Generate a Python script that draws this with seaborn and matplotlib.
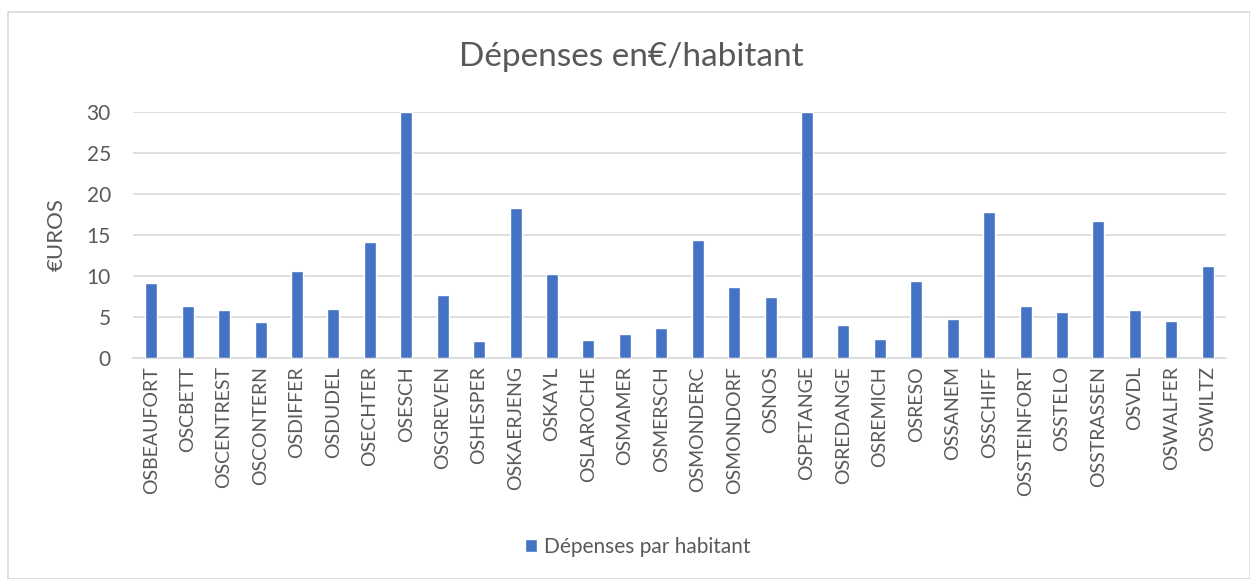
import matplotlib
matplotlib.use("Agg")
import matplotlib.pyplot as plt
from matplotlib.patches import Rectangle, Patch
import seaborn as sns
import pandas as pd

communes = ['OSBEAUFORT', 'OSCBETT', 'OSCENTREST', 'OSCONTERN', 'OSDIFFER',
            'OSDUDEL', 'OSECHTER', 'OSESCH', 'OSGREVEN', 'OSHESPER',
            'OSKAERJENG', 'OSKAYL', 'OSLAROCHE', 'OSMAMER', 'OSMERSCH',
            'OSMONDERC', 'OSMONDORF', 'OSNOS', 'OSPETANGE', 'OSREDANGE',
            'OSREMICH', 'OSRESO', 'OSSANEM', 'OSSCHIFF', 'OSSTEINFORT',
            'OSSTELO', 'OSSTRASSEN', 'OSVDL', 'OSWALFER', 'OSWILTZ']
depenses = [9.1, 6.4, 5.8, 4.35, 10.65,
            5.95, 14.1, 30, 7.65, 2.1,
            18.3, 10.2, 2.25, 2.95, 3.7,
            14.45, 8.6, 7.5, 30, 4.05,
            2.3, 9.35, 4.8, 17.8, 6.4,
            5.6, 16.65, 5.8, 4.5, 11.2]
y_ticks = [0, 5, 10, 15, 20, 25, 30]

BLUE = '#4472C4'
GREY = '#595959'
GRID = '#D9D9D9'


def main():
    df = pd.DataFrame({'Commune': communes, 'Depenses': depenses})

    sns.set_style('white')
    plt.rcParams['font.family'] = ['Lato', 'DejaVu Sans']

    fig = plt.figure(figsize=(12.5, 5.79), dpi=100)
    ax = fig.add_axes([133 / 1250, 1 - 358 / 579, (1226 - 133) / 1250, (358 - 112) / 579])

    # cadre du graphique
    fig.patches.append(Rectangle((8 / 1250, 0), 1 - 8 / 1250, 1 - 12 / 579,
                                 transform=fig.transFigure, fill=False,
                                 edgecolor=GRID, linewidth=1.2))

    sns.barplot(data=df, x='Commune', y='Depenses', color=BLUE, saturation=1,
                width=0.33, ax=ax, zorder=3)

    ax.set_ylim(0, 30)
    ax.set_xlim(-0.5, len(communes) - 0.5)
    ax.set_yticks(y_ticks)
    ax.set_yticklabels([str(t) for t in y_ticks], fontsize=15, color=GREY)
    ax.set_xticks(range(len(communes)))
    ax.set_xticklabels(communes, rotation=90, fontsize=14, color=GREY)
    ax.tick_params(axis='y', length=0, pad=16)
    ax.tick_params(axis='x', length=0, pad=6)
    ax.grid(axis='y', color=GRID, linewidth=1.2, zorder=0)
    for side in ['top', 'right', 'left']:
        ax.spines[side].set_visible(False)
    ax.spines['bottom'].set_color(GRID)
    ax.spines['bottom'].set_linewidth(1.2)

    ax.set_xlabel('')
    ax.set_ylabel('€UROS', fontsize=16, color=GREY, labelpad=14)

    fig.text(0.505, 1 - 57 / 579, 'Dépenses en€/habitant', ha='center', va='center',
             fontsize=24, color=GREY)

    handle = Patch(facecolor=BLUE, label='Dépenses par habitant')
    fig.legend(handles=[handle], loc='center', bbox_to_anchor=(0.51, 1 - 547 / 579),
               frameon=False, fontsize=15, labelcolor=GREY,
               handlelength=0.6, handleheight=0.6, handletextpad=0.3)

    fig.savefig('out.png', dpi=100, facecolor='white')


if __name__ == "__main__":
    main()
